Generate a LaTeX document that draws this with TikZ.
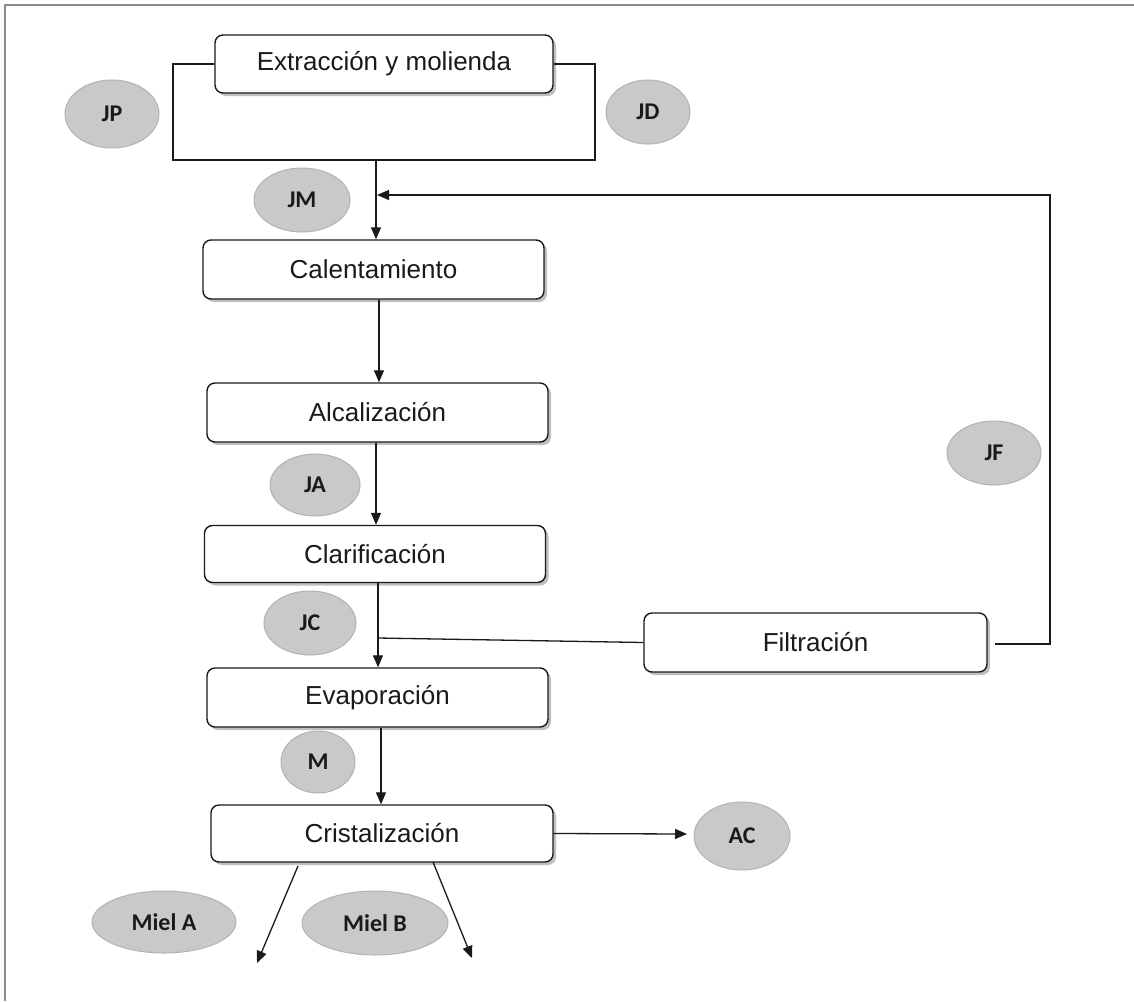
\documentclass[tikz,border=0pt]{standalone}
\usepackage{fontspec}
\setmainfont{Liberation Sans}
\newfontfamily\tagfont{Carlito}
\usetikzlibrary{arrows.meta,shapes.geometric,shadows}

\definecolor{tagfill}{HTML}{C9C9C9}
\definecolor{tagline}{HTML}{B3B3B3}
\definecolor{ink}{HTML}{1A1A1A}

\tikzset{
  stage/.style={draw=ink, line width=1.4pt, rounded corners=8pt, fill=white,
    minimum width=341pt, minimum height=58pt, inner sep=0pt,
    font=\fontsize{26}{31}\selectfont, text=ink,
    drop shadow={shadow xshift=3pt, shadow yshift=-3pt, fill=black!55, opacity=0.45}},
  tag/.style={ellipse, draw=tagline, line width=1pt, fill=tagfill, inner sep=0pt,
    font=\tagfont\bfseries\fontsize{24}{28}\selectfont, text=ink},
  flow/.style={draw=ink, line width=1.3pt},
  >={Triangle[length=12pt,width=10pt]}
}

\begin{document}
\begin{tikzpicture}[x=1pt, y=-1pt]
  \useasboundingbox (0,0) rectangle (1134,1001);
  \fill[white] (0,0) rectangle (1134,1001);
  % outer frame (left and top edges)
  \draw[draw=black!45, line width=2.2pt] (5,1001) -- (5,5) -- (1134,5);

  % process stages
  \node[stage, minimum width=338pt] (ext) at (384,64)    {Extracción y molienda};
  \node[stage, minimum height=59pt] (cal) at (373.5,269.5) {Calentamiento};
  \node[stage, minimum height=59pt] (alc) at (377.5,412.5) {Alcalización};
  \node[stage, minimum height=57pt] (cla) at (375,554)   {Clarificación};
  \node[stage, minimum height=59pt] (eva) at (377.5,697.5) {Evaporación};
  \node[stage, minimum width=342pt, minimum height=57pt] (cri) at (382,833.5) {Cristalización};
  \node[stage, minimum width=343pt, minimum height=59pt] (fil) at (815.5,642.5) {Filtración};

  % stream labels
  \node[tag, minimum width=94pt, minimum height=68pt] (jp) at (112,114) {JP};
  \node[tag, minimum width=84pt, minimum height=64pt] (jd) at (648,112) {JD};
  \node[tag, minimum width=96pt, minimum height=64pt] (jm) at (302,200) {JM};
  \node[tag, minimum width=90pt, minimum height=62pt] (ja) at (315,485) {JA};
  \node[tag, minimum width=92pt, minimum height=64pt] (jc) at (310,623) {JC};
  \node[tag, minimum width=94pt, minimum height=64pt] (jf) at (994,453) {JF};
  \node[tag, minimum width=74pt, minimum height=62pt] (m)  at (318,762) {M};
  \node[tag, minimum width=96pt, minimum height=68pt] (ac) at (742,836) {AC};
  \node[tag, minimum width=144pt, minimum height=62pt] (mA) at (164,922) {Miel A};
  \node[tag, minimum width=146pt, minimum height=64pt] (mB) at (375,923) {Miel B};

  % junction points
  \coordinate (brkL) at (173,160);
  \coordinate (brkR) at (595,160);
  \coordinate (jn)   at (376,160);
  \coordinate (fr)   at (995,644);
  \coordinate (fc)   at (1050,644);
  \coordinate (ft)   at (1050,195);
  \coordinate (rt)   at (377,195);
  \coordinate (fj)   at (378,638);
  \coordinate (acin) at (687,834);
  \coordinate (aS)   at (298,866);
  \coordinate (aE)   at (257,963);
  \coordinate (bS)   at (433,862);
  \coordinate (bE)   at (472,958);

  % collection bracket around the mill
  \draw[flow] (ext.west) -| (brkL) -- (brkR) |- (ext.east);
  \draw[flow,->] (jn) -- (cal.north -| jn);

  % main line
  \draw[flow,->] (cal.south -| 379,0) -- (alc.north -| 379,0);
  \draw[flow,->] (alc.south -| 376,0) -- (cla.north -| 376,0);
  \draw[flow,->] (cla.south -| 378,0) -- (eva.north -| 378,0);
  \draw[flow,->] (eva.south -| 381,0) -- (cri.north -| 381,0);

  % filtration loop
  \draw[flow] (fj) -- (fil.west);
  \draw[flow,->] (fr) -- (fc) -- (ft) -- (rt);

  % products of crystallisation
  \draw[flow,->] (cri.east) -- (acin);
  \draw[flow,->] (aS) -- (aE);
  \draw[flow,->] (bS) -- (bE);
\end{tikzpicture}
\end{document}
